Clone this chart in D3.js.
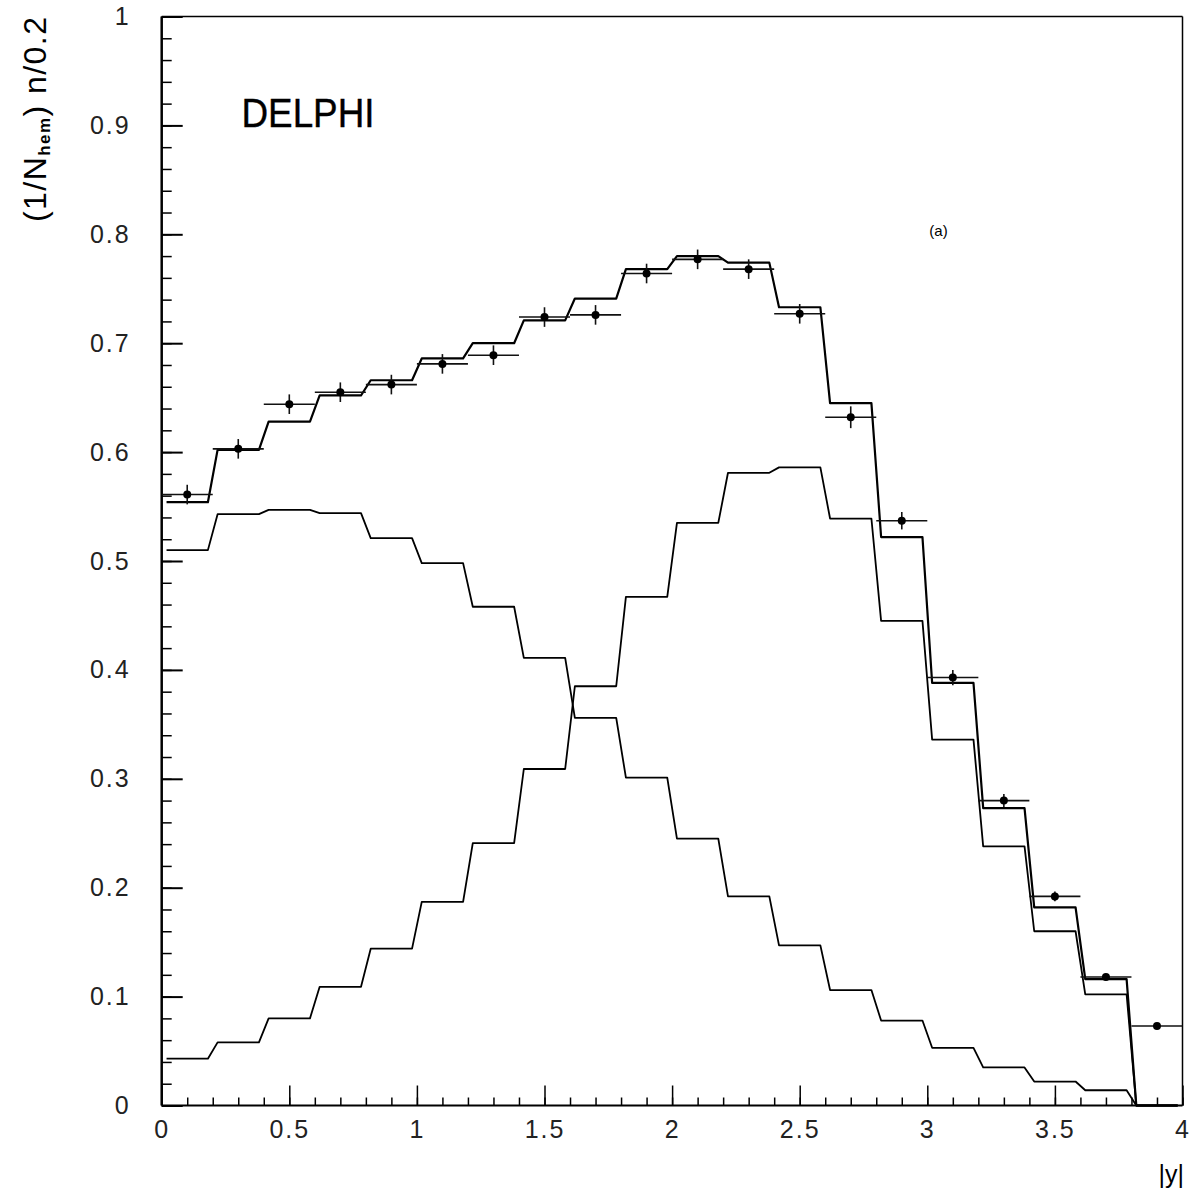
<!DOCTYPE html>
<html lang="en">
<head>
    <meta charset="UTF-8">
    <title>DELPHI |y| distribution</title>
    <script src="https://d3js.org/d3.v7.min.js"></script>
    <style>
        body {
            margin: 0;
            background: white;
            font-family: "Liberation Sans", Arial, sans-serif;
        }
        svg {
            display: block;
        }
        .tick text {
            font-size: 25px;
            letter-spacing: 2px;
            fill: #222;
        }
    </style>
</head>
<body>

    <div id="container"></div>

    <script>

        // bin centres in |y| (bin width 0.2)
        const binCentres = [0.1, 0.3, 0.5, 0.7, 0.9, 1.1, 1.3, 1.5, 1.7, 1.9,
                            2.1, 2.3, 2.5, 2.7, 2.9, 3.1, 3.3, 3.5, 3.7, 3.9];
        const binWidth = 0.2;

        // data points with errors
        const dataValues = [0.561, 0.603, 0.644, 0.655, 0.662, 0.681, 0.689, 0.724, 0.726, 0.764,
                            0.777, 0.768, 0.727, 0.632, 0.537, 0.393, 0.280, 0.192, 0.118, 0.073];
        const dataErrors = [0.009, 0.009, 0.009, 0.009, 0.009, 0.009, 0.009, 0.009, 0.009, 0.009,
                            0.009, 0.009, 0.009, 0.010, 0.008, 0.007, 0.006, 0.0045, 0.003, 0.002];

        // histograms
        const totalHist = [0.554, 0.602, 0.628, 0.652, 0.666, 0.686, 0.700, 0.721, 0.741, 0.768,
                           0.780, 0.774, 0.733, 0.645, 0.522, 0.388, 0.273, 0.182, 0.116, 0];
        const fallingHist = [0.510, 0.543, 0.547, 0.544, 0.521, 0.498, 0.458, 0.411, 0.356, 0.301,
                             0.245, 0.192, 0.147, 0.106, 0.078, 0.053, 0.035, 0.022, 0.014, 0];
        const risingHist = [0.043, 0.058, 0.080, 0.109, 0.144, 0.187, 0.241, 0.309, 0.385, 0.467,
                            0.535, 0.581, 0.586, 0.539, 0.445, 0.336, 0.238, 0.160, 0.102, 0];

        // tick labels
        const xTicks = [0, 0.5, 1, 1.5, 2, 2.5, 3, 3.5, 4];
        const yTicks = [0, 0.1, 0.2, 0.3, 0.4, 0.5, 0.6, 0.7, 0.8, 0.9, 1];

        const W = 1195, H = 1189;
        const plotLeft = 161.7, plotTop = 16.5, plotRight = 1182.5, plotBottom = 1105.5;

        const svg = d3.select('#container').append('svg')
            .attr('width', W)
            .attr('height', H);

        const x = d3.scaleLinear().domain([0, 4]).range([plotLeft, plotRight]);
        const y = d3.scaleLinear().domain([0, 1]).range([plotBottom, plotTop]);

        // minor ticks
        svg.append('g')
            .attr('transform', `translate(0,${plotBottom})`)
            .call(d3.axisBottom(x).ticks(40).tickSize(-8).tickFormat(''))
            .call(g => g.select('.domain').remove())
            .selectAll('line').attr('stroke', '#000').attr('stroke-width', 1.5);

        svg.append('g')
            .attr('transform', `translate(${plotLeft},0)`)
            .call(d3.axisLeft(y).ticks(50).tickSize(-10).tickFormat(''))
            .call(g => g.select('.domain').remove())
            .selectAll('line').attr('stroke', '#000').attr('stroke-width', 1.5);

        // major ticks with labels
        svg.append('g')
            .attr('transform', `translate(0,${plotBottom})`)
            .call(d3.axisBottom(x).tickValues(xTicks).tickSize(-20).tickPadding(15)
                .tickFormat(d => d3.format('')(d)))
            .call(g => g.select('.domain').remove())
            .call(g => g.selectAll('line').attr('stroke', '#000').attr('stroke-width', 1.5))
            .call(g => g.selectAll('text').attr('font-family', null).attr('font-size', null));

        svg.append('g')
            .attr('transform', `translate(${plotLeft},0)`)
            .call(d3.axisLeft(y).tickValues(yTicks).tickSize(-21).tickPadding(31)
                .tickFormat(d => d3.format('')(d)))
            .call(g => g.select('.domain').remove())
            .call(g => g.selectAll('line').attr('stroke', '#000').attr('stroke-width', 2))
            .call(g => g.selectAll('text').attr('font-family', null).attr('font-size', null));

        // frame
        svg.append('line').attr('x1', plotLeft).attr('x2', plotRight).attr('y1', plotBottom).attr('y2', plotBottom)
            .attr('stroke', '#000').attr('stroke-width', 2);
        svg.append('line').attr('x1', plotLeft).attr('x2', plotLeft).attr('y1', plotTop).attr('y2', plotBottom)
            .attr('stroke', '#000').attr('stroke-width', 2.5);
        svg.append('line').attr('x1', plotLeft).attr('x2', plotRight).attr('y1', plotTop).attr('y2', plotTop)
            .attr('stroke', '#000').attr('stroke-width', 1.5);
        svg.append('line').attr('x1', plotRight).attr('x2', plotRight).attr('y1', plotTop).attr('y2', plotBottom)
            .attr('stroke', '#000').attr('stroke-width', 1.5);

        // histogram outline: flat over each bin with short slanted joins at the edges
        const delta = 0.019;
        function histPoints(values) {
            const pts = [];
            values.forEach((v, i) => {
                const lo = binCentres[i] - binWidth / 2;
                const hi = binCentres[i] + binWidth / 2;
                pts.push([lo + delta, v]);
                pts.push([hi - delta, v]);
            });
            return pts;
        }

        const line = d3.line()
            .x(d => x(d[0]))
            .y(d => y(d[1]));

        [[fallingHist, 1.8], [risingHist, 1.8], [totalHist, 2.2]].forEach(([h, sw]) => {
            svg.append('path')
                .attr('d', line(histPoints(h)))
                .attr('fill', 'none')
                .attr('stroke', '#000')
                .attr('stroke-width', sw)
                .attr('stroke-linejoin', 'round');
        });

        // data points with error bars
        const pts = svg.append('g');
        binCentres.forEach((c, i) => {
            pts.append('line')
                .attr('x1', x(c - binWidth / 2)).attr('x2', x(c + binWidth / 2))
                .attr('y1', y(dataValues[i])).attr('y2', y(dataValues[i]))
                .attr('stroke', '#111').attr('stroke-width', 1.6);
            pts.append('line')
                .attr('x1', x(c)).attr('x2', x(c))
                .attr('y1', y(dataValues[i] - dataErrors[i])).attr('y2', y(dataValues[i] + dataErrors[i]))
                .attr('stroke', '#111').attr('stroke-width', 1.6);
            pts.append('circle')
                .attr('cx', x(c)).attr('cy', y(dataValues[i]))
                .attr('r', 4).attr('fill', '#000');
        });

        // texts
        svg.append('text')
            .attr('x', 241.5).attr('y', 126.5)
            .attr('font-size', 40)
            .attr('textLength', 133).attr('lengthAdjust', 'spacingAndGlyphs')
            .attr('stroke', '#000').attr('stroke-width', 0.4)
            .text('DELPHI');

        svg.append('text')
            .attr('x', 938.5).attr('y', 236)
            .attr('text-anchor', 'middle')
            .attr('font-size', 15)
            .text('(a)');

        svg.append('text')
            .attr('x', 1184).attr('y', 1183)
            .attr('text-anchor', 'end')
            .attr('font-size', 25)
            .text('|y|');

        // y axis title (rotated)
        const yt = svg.append('text')
            .attr('transform', 'translate(46,222) rotate(-90)')
            .attr('font-size', 32)
            .attr('textLength', 205).attr('lengthAdjust', 'spacing');
        yt.append('tspan').text('(1/N');
        yt.append('tspan').attr('font-size', 17).attr('font-weight', 'bold').attr('dy', 4).text('hem');
        yt.append('tspan').attr('dy', -4).text(') n/0.2');

    </script>

</body>
</html>
